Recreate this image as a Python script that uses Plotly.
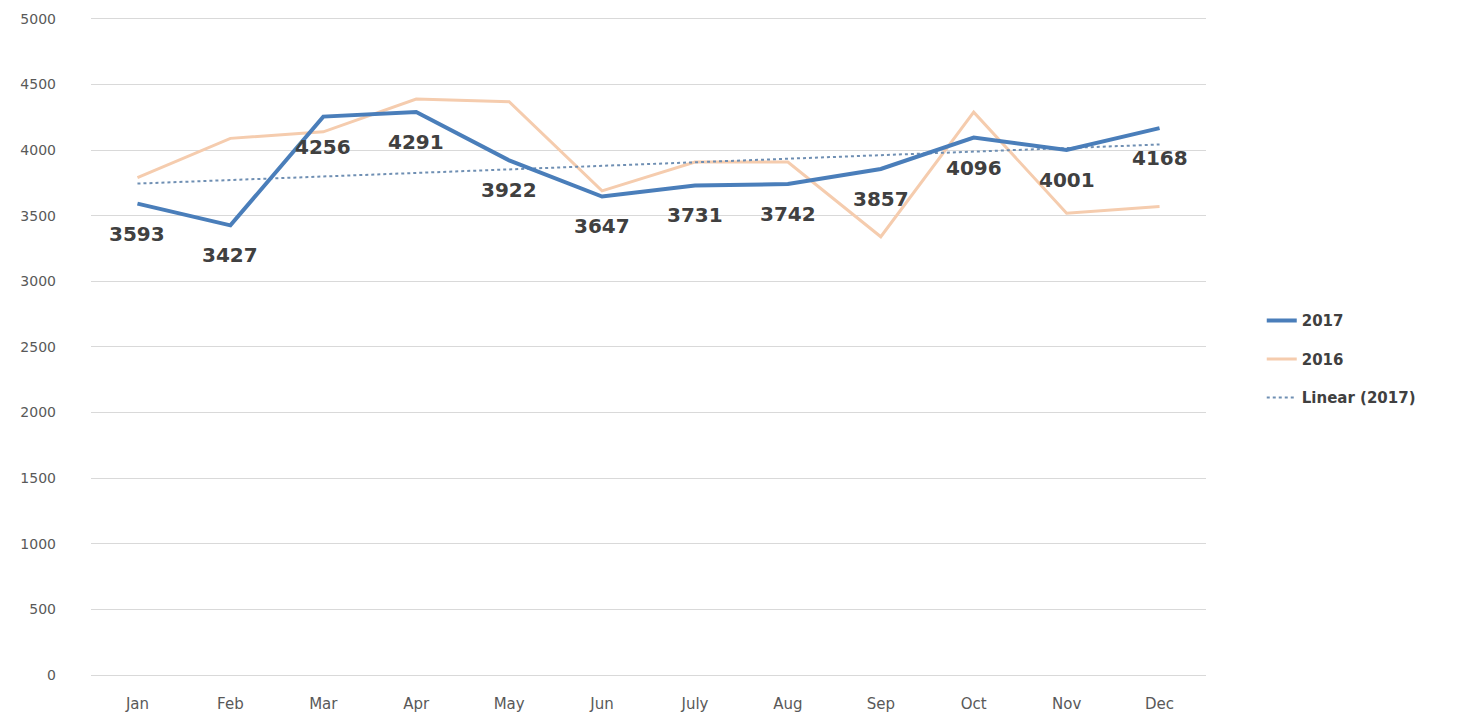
import numpy as np
import plotly.graph_objects as go

months = ["Jan", "Feb", "Mar", "Apr", "May", "Jun", "July", "Aug", "Sep", "Oct", "Nov", "Dec"]
sales_2017 = [3593, 3427, 4256, 4291, 3922, 3647, 3731, 3742, 3857, 4096, 4001, 4168]
sales_2016 = [3790, 4090, 4140, 4390, 4370, 3690, 3910, 3910, 3340, 4290, 3520, 3570]
y_ticks = [0, 500, 1000, 1500, 2000, 2500, 3000, 3500, 4000, 4500, 5000]

# Linear trend of 2017 (least squares, like Excel's trendline)
xi = np.arange(1, len(sales_2017) + 1)
slope, intercept = np.polyfit(xi, sales_2017, 1)
trend_2017 = list(slope * xi + intercept)

FONT = "DejaVu Sans"

fig = go.Figure()
fig.add_trace(go.Scatter(
    x=months, y=sales_2016, name="2016", mode="lines",
    line=dict(color="#f5ccae", width=3), legendgroup="b", legendrank=2))
fig.add_trace(go.Scatter(
    x=months, y=trend_2017, name="Linear (2017)", mode="lines",
    line=dict(color="#6f8fb3", width=2, dash="dot"), legendgroup="c", legendrank=3))
fig.add_trace(go.Scatter(
    x=months, y=sales_2017, name="2017", mode="lines",
    line=dict(color="#4a7eba", width=4), legendgroup="a", legendrank=1))

for m, v in zip(months, sales_2017):
    fig.add_annotation(x=m, y=v, text=str(v), showarrow=False, yshift=-30,
                       font=dict(family=FONT, size=20, color="#404040", weight="bold"))

# page body has an 8px margin: figure is sized/offset to compensate
fig.update_layout(
    width=1471, height=707,
    margin=dict(l=83, r=273, t=9, b=40, autoexpand=False),
    paper_bgcolor="white", plot_bgcolor="white",
    font=dict(family=FONT, color="#595959"),
    showlegend=True,
    legend=dict(x=1.05, xanchor="left", y=0.48, yanchor="middle",
                traceorder="grouped", tracegroupgap=16,
                font=dict(family=FONT, size=15, color="#404040", weight="bold"),
                bgcolor="rgba(0,0,0,0)"),
)
fig.update_xaxes(
    type="category", categoryorder="array", categoryarray=months,
    range=[-0.5, len(months) - 0.5], automargin=False,
    showgrid=False, showline=False, zeroline=False,
    tickfont=dict(family=FONT, size=15, color="#595959"),
    ticks="", ticklabelstandoff=18)
fig.update_yaxes(
    range=[0, 5015], tickvals=y_ticks, ticktext=[str(t) for t in y_ticks],
    automargin=False,
    showgrid=True, gridcolor="#d9d9d9", gridwidth=1,
    zeroline=True, zerolinecolor="#d9d9d9", zerolinewidth=1,
    showline=False, ticks="", ticklabelstandoff=34,
    tickfont=dict(family=FONT, size=14, color="#595959"))

fig.write_html("out.html")
